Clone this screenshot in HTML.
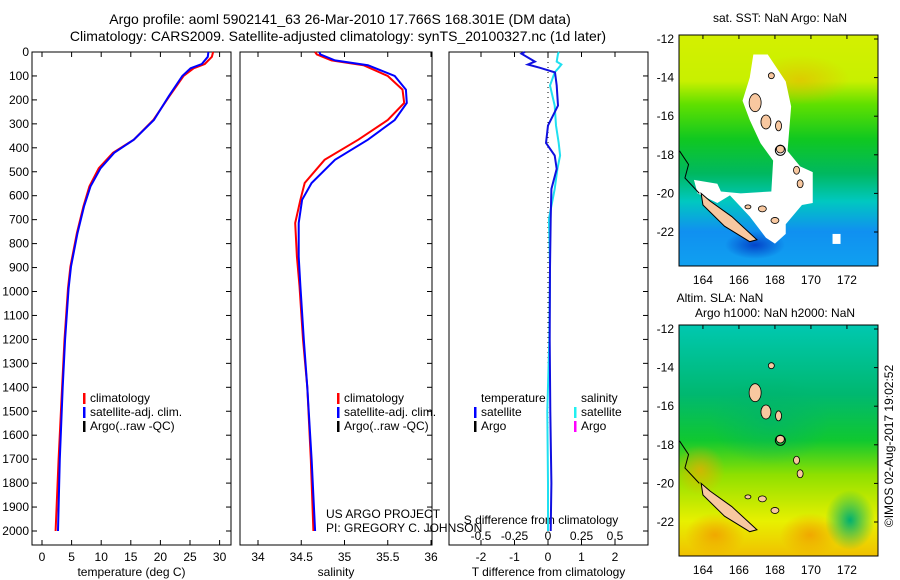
<!DOCTYPE html>
<html><head><meta charset="utf-8"><style>
body{margin:0;background:#fff;}
svg{display:block;font-family:"Liberation Sans",sans-serif;}
text{font-size:12px;fill:#000;}
</style></head><body>
<svg id="s" width="900" height="580" viewBox="0 0 900 580">
<defs>
<linearGradient id="sstg" x1="0" y1="0" x2="0" y2="1">
<stop offset="0" stop-color="#d4f000"/><stop offset="0.2" stop-color="#c8f000"/><stop offset="0.3" stop-color="#60e000"/>
<stop offset="0.45" stop-color="#10c820"/><stop offset="0.6" stop-color="#00b860"/><stop offset="0.72" stop-color="#00c8c0"/>
<stop offset="0.85" stop-color="#1090f0"/><stop offset="1" stop-color="#10a0f0"/></linearGradient>
<linearGradient id="slag" x1="0" y1="0" x2="0" y2="1">
<stop offset="0" stop-color="#00c8b0"/><stop offset="0.3" stop-color="#00b870"/><stop offset="0.5" stop-color="#10c830"/>
<stop offset="0.65" stop-color="#90e000"/><stop offset="0.85" stop-color="#e8f000"/><stop offset="1" stop-color="#f0c000"/></linearGradient>
<radialGradient id="org"><stop offset="0" stop-color="#f0a800"/><stop offset="1" stop-color="#f0a800" stop-opacity="0"/></radialGradient>
<radialGradient id="grn"><stop offset="0" stop-color="#00b070"/><stop offset="1" stop-color="#00b070" stop-opacity="0"/></radialGradient>
<radialGradient id="dblue"><stop offset="0" stop-color="#0030c0"/><stop offset="1" stop-color="#0030c0" stop-opacity="0"/></radialGradient>
<clipPath id="c1"><rect x="679" y="35" width="199" height="231"/></clipPath>
<clipPath id="c2"><rect x="679" y="325" width="199" height="231"/></clipPath>
</defs>
<text x="340" y="24" text-anchor="middle" style="font-size:14px">Argo profile: aoml 5902141_63 26-Mar-2010 17.766S 168.301E (DM data)</text>
<text x="338" y="41" text-anchor="middle" style="font-size:14px">Climatology: CARS2009. Satellite-adjusted climatology: synTS_20100327.nc (1d later)</text>
<g id="p1"></g>
<g id="p2"></g>
<g id="p3"></g>
<g id="m1"></g>
<g id="m2"></g>
<text x="780" y="22" text-anchor="middle">sat. SST: NaN Argo: NaN</text>
<text x="720" y="302" text-anchor="middle">Altim. SLA: NaN</text>
<text x="775" y="317" text-anchor="middle">Argo h1000: NaN h2000: NaN</text>
<text transform="translate(893,446) rotate(-90)" text-anchor="middle">©IMOS 02-Aug-2017 19:02:52</text>
</svg>
<script>
const depths=[0,20,50,68,100,185,284,366,421,485,561,645,756,896,987,1200,1400,1700,2000];
const tempSat=[28.1,28.0,27.0,25.1,23.7,21.4,18.9,15.5,12.2,9.9,8.2,7.1,6.0,4.9,4.5,3.9,3.5,3.0,2.7];
const tempClim=[28.9,28.7,27.5,25.6,23.9,21.5,18.8,15.5,12.0,9.6,8.0,7.0,5.9,4.8,4.4,3.8,3.4,2.8,2.3];
const salDepths=[0,10,35,55,100,157,213,284,366,450,547,617,714,854,978,1200,1400,1700,2000];
const salSat=[34.71,34.72,34.89,35.27,35.58,35.71,35.72,35.58,35.27,34.89,34.62,34.51,34.47,34.47,34.49,34.53,34.57,34.62,34.66];
const salClim=[34.66,34.68,34.85,35.22,35.50,35.67,35.69,35.50,35.16,34.77,34.54,34.49,34.43,34.45,34.48,34.52,34.57,34.61,34.64];
const dDepths=[0,7,40,52,66,85,140,224,307,380,432,488,572,697,900,1200,1500,1800,2000];
const dT=[-0.69,-0.79,-0.39,-0.6,-0.24,0.21,0.26,0.3,0.0,-0.06,0.2,0.26,0.1,0.08,0.06,0.05,0.07,0.1,0.08];
const dS=[0.082,0.075,0.065,0.1,0.08,0.05,0.015,0.05,0.06,0.08,0.09,0.07,0.05,0.007,0.015,0.01,-0.005,0.0,0.0];
const depthTicks=[0,100,200,300,400,500,600,700,800,900,1000,1100,1200,1300,1400,1500,1600,1700,1800,1900,2000];
const tempTicks=[0,5,10,15,20,25,30];
const salTicks=[34,34.5,35,35.5,36];
const dTTicks=[-2,-1,0,1,2];
const dSTicks=[-0.5,-0.25,0,0.25,0.5];
const lonTicks=[164,166,168,170,172];
const latTicks=[-12,-14,-16,-18,-20,-22];

const NS='http://www.w3.org/2000/svg';
function mk(p,tag,at,txt){const e=document.createElementNS(NS,tag);for(const k in at)e.setAttribute(k,at[k]);if(txt!==undefined)e.textContent=txt;p.appendChild(e);return e;}
const yD=d=>52+d*0.2395;
const T0=52,B0=545;
function panel(g,x0,x1,xs,ticks,fmt,lbl,showDepth){
  const r=mk(g,'rect',{x:x0,y:T0,width:x1-x0,height:B0-T0,fill:'none',stroke:'#000','stroke-width':1});
  
  
  depthTicks.forEach(d=>{const y=yD(d);
    mk(g,'line',{x1:x1-5,y1:y,x2:x1,y2:y,stroke:'#000'});
    if(showDepth){mk(g,'line',{x1:x0,y1:y,x2:x0+5,y2:y,stroke:'#000'});
      const t=mk(g,'text',{x:x0-3,y:y+4,'text-anchor':'end'},String(d));
      
      }});
  ticks.forEach(v=>{const x=xs(v);
    mk(g,'line',{x1:x,y1:T0,x2:x,y2:T0+5,stroke:'#000'});
    mk(g,'line',{x1:x,y1:B0,x2:x,y2:B0-5,stroke:'#000'});
    const t=mk(g,'text',{x:x,y:561,'text-anchor':'middle'},String(v));
    
    });
  const t=mk(g,'text',{x:(x0+x1)/2,y:576,'text-anchor':'middle'},lbl);
  
  
}
function line(g,xs,vals,ds,col,w,name){
  const pts=vals.map((v,i)=>xs(v).toFixed(1)+','+yD(ds[i]).toFixed(1)).join(' ');
  const p=mk(g,'polyline',{points:pts,fill:'none',stroke:col,'stroke-width':w});
  
  
}
function legend(g,x,y,items){items.forEach((it,i)=>{
  mk(g,'rect',{x:x,y:y+i*14-9,width:2.5,height:11,fill:it[1]});
  const t=mk(g,'text',{x:x+7,y:y+i*14},it[0]);
  
  });}

const p1=document.getElementById('p1');
const xT=v=>42+v*5.92;
panel(p1,32,231,xT,tempTicks,String,'temperature (deg C)',true);
line(p1,xT,tempClim,depths,'#f00',2,'temperature-climatology-line');
line(p1,xT,tempSat,depths,'#00f',2,'temperature-satellite-line');
legend(p1,83,402,[['climatology','#f00'],['satellite-adj. clim.','#00f'],['Argo(..raw -QC)','#000']]);
const p2=document.getElementById('p2');
const xS=v=>258+(v-34)*86.5;
panel(p2,240,432,xS,salTicks,String,'salinity',false);
line(p2,xS,salClim,salDepths,'#f00',2,'salinity-climatology-line');
line(p2,xS,salSat,salDepths,'#00f',2,'salinity-satellite-line');
legend(p2,337,402,[['climatology','#f00'],['satellite-adj. clim.','#00f'],['Argo(..raw -QC)','#000']]);
const u1=mk(p2,'text',{x:326,y:518},'US ARGO PROJECT');
const u2=mk(p2,'text',{x:326,y:532},'PI: GREGORY C. JOHNSON');
const p3=document.getElementById('p3');
const xDT=v=>548+v*33.5;
const xDS=v=>548+v*134;
panel(p3,449,648,xDT,dTTicks,String,'T difference from climatology',false);
dSTicks.forEach(v=>{const t=mk(p3,'text',{x:xDS(v),y:540,'text-anchor':'middle'},String(v));});
const st=mk(p3,'text',{x:541,y:524,'text-anchor':'middle'},'S difference from climatology');
mk(p3,'line',{x1:xDT(0),y1:T0,x2:xDT(0),y2:yD(2000),stroke:'#000','stroke-dasharray':'1,4'});
line(p3,xDS,dS,dDepths,'#20e0f0',2,'salinity-diff-line');
line(p3,xDT,dT,dDepths,'#1010e0',2,'temperature-diff-line');
const l1=mk(p3,'text',{x:481,y:402},'temperature');
const l2=mk(p3,'text',{x:581,y:402},'salinity');
legend(p3,474,416,[['satellite','#00f'],['Argo','#000']]);
legend(p3,574,416,[['satellite','#20f0f0'],['Argo','#f0f']]);

const lonX=l=>679+(l-162.67)*18.0;
function latY(l,top){return top+4+(-12-l)*19.3;}
function map(g,top,fillId,clip,extra){
  const c=mk(g,'g',{'clip-path':'url(#'+clip+')'});
  mk(c,'rect',{x:679,y:top,width:199,height:231,fill:'url(#'+fillId+')'});
  extra(c);
  const nc=mk(c,'path',{d:`M${lonX(163.9)},${latY(-20.0,top)} L${lonX(164.4)},${latY(-20.4,top)} L${lonX(165.6)},${latY(-21.2,top)} L${lonX(167.0)},${latY(-22.4,top)} L${lonX(166.6)},${latY(-22.5,top)} L${lonX(165.2)},${latY(-21.7,top)} L${lonX(164.0)},${latY(-20.6,top)} Z`,fill:'#f8c8a0',stroke:'#000','stroke-width':1});
  
  [[166.9,-15.3,6,9],[167.5,-16.3,5,7],[168.2,-16.5,3,5],[168.3,-17.7,4,4],[169.2,-18.8,3,4],[169.4,-19.5,3,4],[167.3,-20.8,4,3],[168.0,-21.4,4,3],[166.5,-20.7,3,2],[167.8,-13.9,3,3]].forEach(a=>{
    mk(c,'ellipse',{cx:lonX(a[0]),cy:latY(a[1],top),rx:a[2],ry:a[3],fill:'#f8c8a0',stroke:'#000','stroke-width':0.8});});
  mk(c,'circle',{cx:lonX(168.3),cy:latY(-17.77,top),r:5,fill:'none',stroke:'#000'});
  mk(c,'path',{d:`M${lonX(162.7)},${latY(-17.8,top)} L${lonX(163.2)},${latY(-18.5,top)} L${lonX(163.0)},${latY(-19.2,top)} L${lonX(163.8)},${latY(-20.0,top)}`,fill:'none',stroke:'#000'});
  mk(g,'rect',{x:679,y:top,width:199,height:231,fill:'none',stroke:'#000'});
  lonTicks.forEach(l=>{const x=lonX(l);mk(g,'line',{x1:x,y1:top,x2:x,y2:top+4,stroke:'#000'});
    const t=mk(g,'text',{x:x,y:top+249,'text-anchor':'middle'},String(l));});
  latTicks.forEach(l=>{const y=latY(l,top);mk(g,'line',{x1:874,y1:y,x2:878,y2:y,stroke:'#000'});
    const t=mk(g,'text',{x:674,y:y+4,'text-anchor':'end'},String(l));});
}
map(document.getElementById('m1'),35,'sstg','c1',c=>{
  mk(c,'ellipse',{cx:800,cy:80,rx:50,ry:25,fill:'url(#org)',opacity:0.5});
  mk(c,'ellipse',{cx:755,cy:245,rx:30,ry:14,fill:'url(#dblue)',opacity:0.8});
  const w=mk(c,'path',{d:`M${lonX(166.8)},${latY(-12.8,35)} L${lonX(167.6)},${latY(-12.8,35)} L${lonX(168.6)},${latY(-14.2,35)} L${lonX(168.9)},${latY(-15.5,35)} L${lonX(168.7)},${latY(-17.8,35)} L${lonX(169.4)},${latY(-18.6,35)} L${lonX(170.1)},${latY(-18.9,35)} L${lonX(170.1)},${latY(-20.5,35)} L${lonX(169.5)},${latY(-20.6,35)} L${lonX(168.6)},${latY(-21.6,35)} L${lonX(168.6)},${latY(-22.1,35)} L${lonX(168.0)},${latY(-22.6,35)} L${lonX(167.5)},${latY(-22.3,35)} L${lonX(166.6)},${latY(-21.2,35)} L${lonX(165.5)},${latY(-20.1,35)} L${lonX(164.8)},${latY(-20.5,35)} L${lonX(163.7)},${latY(-20.0,35)} L${lonX(163.5)},${latY(-19.3,35)} L${lonX(164.8)},${latY(-19.5,35)} L${lonX(165.0)},${latY(-19.9,35)} L${lonX(166.1)},${latY(-20.0,35)} L${lonX(167.8)},${latY(-19.9,35)} L${lonX(167.9)},${latY(-18.3,35)} L${lonX(167.2)},${latY(-17.4,35)} L${lonX(166.6)},${latY(-16.2,35)} L${lonX(166.2)},${latY(-15.2,35)} L${lonX(166.6)},${latY(-14.0,35)} Z`,fill:'#fff'});
  
  mk(c,'rect',{x:lonX(171.2),y:latY(-22.1,35),width:8,height:10,fill:'#fff'});
});
map(document.getElementById('m2'),325,'slag','c2',c=>{
  mk(c,'ellipse',{cx:770,cy:420,rx:60,ry:45,fill:'url(#grn)',opacity:0.6});
  mk(c,'ellipse',{cx:715,cy:535,rx:30,ry:22,fill:'url(#org)'});
  mk(c,'ellipse',{cx:810,cy:535,rx:30,ry:22,fill:'url(#org)'});
  mk(c,'ellipse',{cx:850,cy:520,rx:25,ry:30,fill:'url(#grn)'});
  mk(c,'ellipse',{cx:700,cy:470,rx:25,ry:25,fill:'url(#org)',opacity:0.7});
});
</script>
</body></html>
